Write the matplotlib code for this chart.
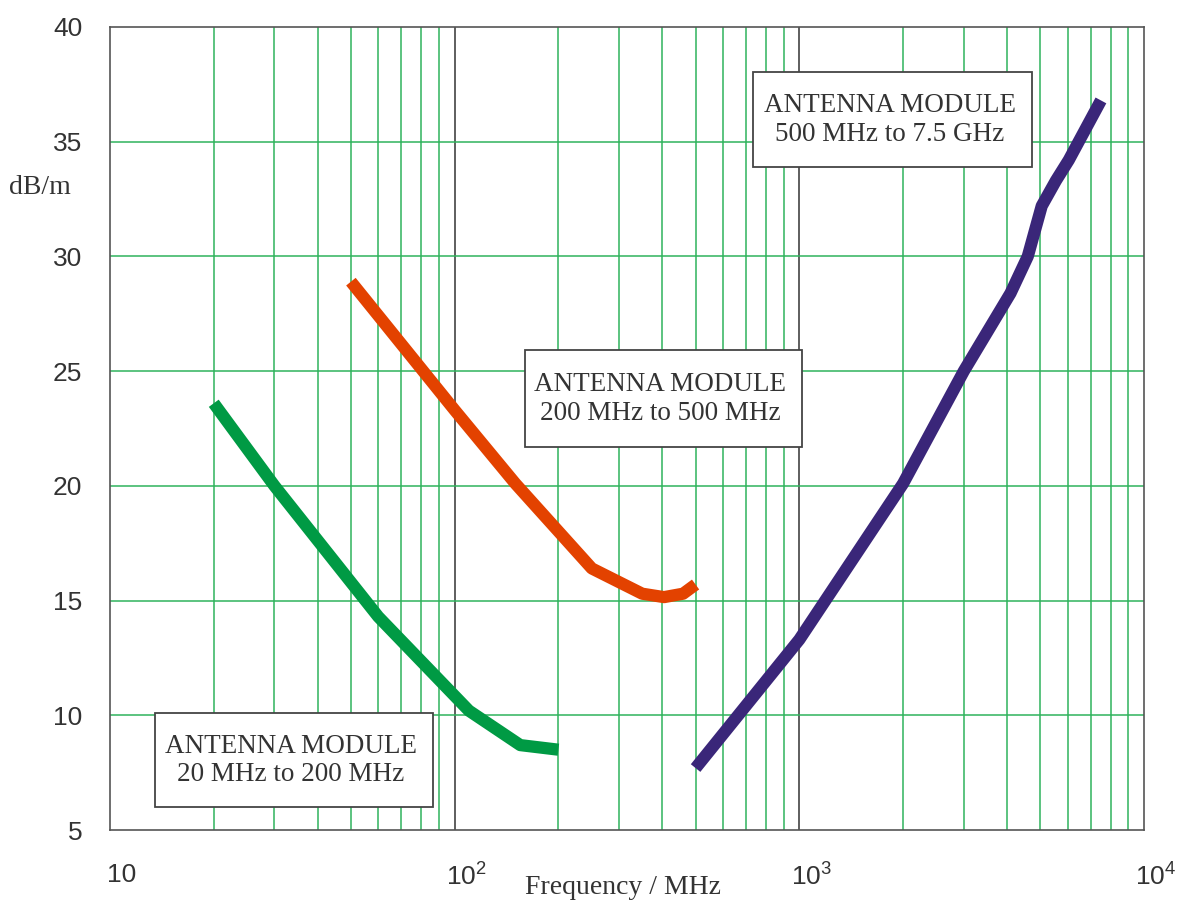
import numpy as np
import matplotlib.pyplot as plt
import matplotlib.transforms as mtransforms
from matplotlib.patches import Rectangle

# antenna factor curves (frequency in MHz, factor in dB/m)
freq_low = [20, 30, 60, 110, 155, 200]
af_low = [23.6, 20.0, 14.3, 10.2, 8.7, 8.5]

freq_mid = [50, 100, 150, 250, 350, 405, 460, 500]
af_mid = [28.9, 23.3, 20.1, 16.4, 15.3, 15.15, 15.3, 15.7]

freq_high = [500, 1000, 2000, 3000, 4100, 4600, 5050, 5550, 6050, 7500]
af_high = [7.7, 13.3, 20.1, 25.0, 28.4, 30.0, 32.2, 33.3, 34.2, 36.8]

box_labels = ["ANTENNA MODULE\n20 MHz to 200 MHz",
              "ANTENNA MODULE\n200 MHz to 500 MHz",
              "ANTENNA MODULE\n500 MHz to 7.5 GHz"]

y_ticks = [5, 10, 15, 20, 25, 30, 35, 40]
x_ticks = [10, 100, 1000, 10000]
x_ticklabels = ["10", r"$10^{2}$", r"$10^{3}$", r"$10^{4}$"]

grid_green = "#2fb35c"
txt = "#333333"

plt.rcParams['mathtext.fontset'] = 'custom'
plt.rcParams['mathtext.rm'] = 'Liberation Sans'
plt.rcParams['mathtext.it'] = 'Liberation Sans'

fig = plt.figure(figsize=(11.88, 9.06), dpi=100)
ax = fig.add_axes([110 / 1188, 1 - 830 / 906, 1034 / 1188, 803 / 906])

ax.set_xscale('log')
ax.set_xlim(10, 10000)
ax.set_ylim(5, 40)

# grid: green minor decades, dark lines at the decades
for dec in [10, 100, 1000]:
    for m in range(2, 10):
        ax.axvline(dec * m, color=grid_green, lw=1.1, zorder=1)
for dec in [100, 1000]:
    ax.axvline(dec, color="#333333", lw=1.1, zorder=1)
for y in y_ticks[1:-1]:
    ax.axhline(y, color=grid_green, lw=1.1, zorder=1)

for s in ax.spines.values():
    s.set_color("#555555")
    s.set_linewidth(1.2)

# curves
lw = 8.8
ax.plot(freq_low, af_low, color="#009a44", lw=lw, solid_capstyle='butt', zorder=3)
ax.plot(freq_mid, af_mid, color="#e34200", lw=lw, solid_capstyle='butt', zorder=3)
ax.plot(freq_high, af_high, color="#3a2679", lw=lw, solid_capstyle='butt', zorder=3)

# ticks
ax.set_yticks(y_ticks)
ax.set_yticklabels([str(v) for v in y_ticks], fontsize=19, color=txt,
                   family='Liberation Sans')
ax.set_xticks(x_ticks)
ax.set_xticklabels(x_ticklabels, fontsize=19, color=txt, family='Liberation Sans')
ax.xaxis.set_minor_locator(plt.NullLocator())
ax.tick_params(axis='both', length=0)
ax.tick_params(axis='y', pad=20)
ax.tick_params(axis='x', pad=24)
shift = mtransforms.ScaledTranslation(12 / 100, 0, fig.dpi_scale_trans)
for lab in ax.get_xticklabels():
    lab.set_transform(lab.get_transform() + shift)

fig.text(623 / 1188, 1 - 887 / 906, "Frequency / MHz", ha='center', va='center',
         fontsize=20, family='Liberation Serif', color=txt)
fig.text(40 / 1188, 1 - 187 / 906, "dB/m", ha='center', va='center',
         fontsize=20, family='Liberation Serif', color=txt)

# annotation boxes (axes fractions)
boxes = [(0.044, 0.029, 0.268, 0.117),
         (0.401, 0.477, 0.268, 0.121),
         (0.622, 0.826, 0.270, 0.118)]
for (x0, y0, w, h), label in zip(boxes, box_labels):
    ax.add_patch(Rectangle((x0, y0), w, h, transform=ax.transAxes,
                           facecolor='white', edgecolor='#444444', lw=1.3, zorder=4))
    ax.text(x0 + w / 2 - 0.003, y0 + h / 2 - 0.001, label, transform=ax.transAxes,
            ha='center', va='center', fontsize=19.5, family='Liberation Serif',
            color=txt, linespacing=1.2, zorder=5)

plt.savefig("out.png", dpi=100)
